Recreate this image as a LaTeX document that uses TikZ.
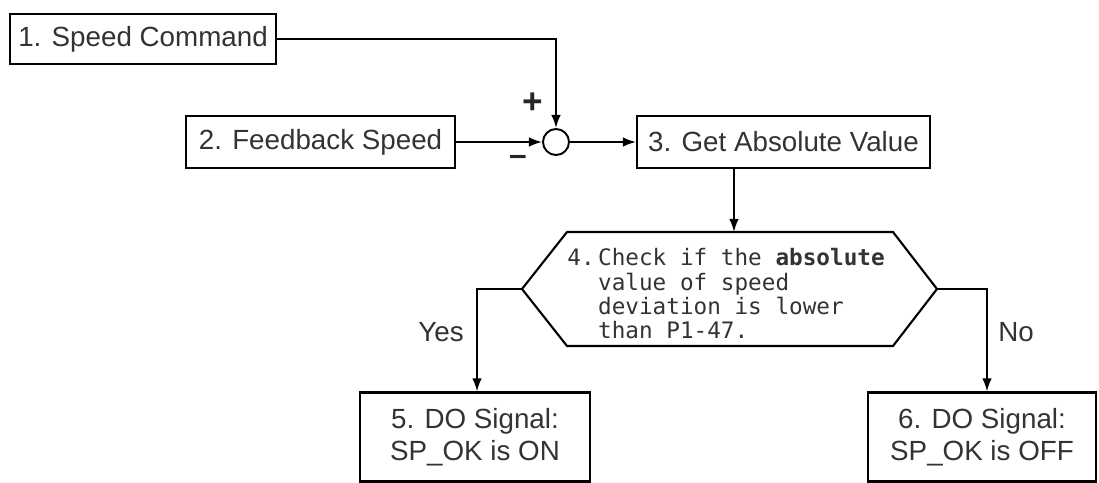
\documentclass[tikz,border=0pt]{standalone}
\usepackage{fontspec}
\setmainfont{Liberation Sans}
\setmonofont{DejaVu Sans Mono}
\usetikzlibrary{arrows.meta}

\begin{document}
\begin{tikzpicture}[x=0.02cm, y=-0.02cm,
    box/.style={draw, line width=1.2pt, inner sep=0pt, text=black!80,
        font=\fontsize{15.8}{18}\selectfont, align=center},
    arr/.style={line width=1.1pt, -{Latex[length=7.5pt,width=5.5pt]}},
    lbl/.style={text=black!80, font=\fontsize{15.8}{18}\selectfont}]

        \useasboundingbox (0,0) rectangle (1099,483);

        % Boxes
        \node[box, minimum width=5.32cm, minimum height=1cm] (cmd) at (143,39) {1. Speed Command};
        \node[box, minimum width=5.38cm, minimum height=1.04cm] (fbk) at (320.5,142) {2. Feedback Speed};
        \node[box, minimum width=5.86cm, minimum height=1.04cm] (abs) at (783.5,142) {3. Get Absolute Value};
        \node[box, minimum width=4.6cm, minimum height=1.78cm] (on) at (475,437) {5. DO Signal:\\ SP\_OK is ON};
        \node[box, minimum width=4.56cm, minimum height=1.78cm] (off) at (982,437) {6. DO Signal:\\ SP\_OK is OFF};

        % Summing point and signs
        \node[draw, circle, line width=1.1pt, minimum size=0.52cm, inner sep=0pt] (sum) at (556,142) {};
        \node[text=black!85, font=\fontsize{20}{20}\selectfont\bfseries] (plus) at (533,103) {+};
        \node[text=black!85, font=\fontsize{18}{18}\selectfont\bfseries] (minus) at (518,160) {–};

        % Define vertices of the hexagon
        \coordinate (H1) at (567,232);   % Top-left
        \coordinate (H2) at (893,232);   % Top-right
        \coordinate (H3) at (937,289);   % Right
        \coordinate (H4) at (893,346);   % Bottom-right
        \coordinate (H5) at (567,346);   % Bottom-left
        \coordinate (H6) at (522,289);   % Left

        % Bend points of the branches
        \coordinate (T) at (734,232);    % Entry on top
        \coordinate (L) at (477,289);    % Yes corner
        \coordinate (R) at (987,289);    % No corner

        % Draw hexagon with its text
        \draw[line width=1.2pt] (H1) -- (H2) -- (H3) -- (H4) -- (H5) -- (H6) -- cycle;
        \node[anchor=west, inner sep=0pt, text=black!80,
              font=\ttfamily\fontsize{12.9}{13}\selectfont] (chk) at (567,297)
            {\begin{tabular}{@{}l@{\hspace{2pt}}l@{}}
             4.&Check if the \textbf{absolute}\\
               &value of speed\\
               &deviation is lower\\
               &than P1-47.
             \end{tabular}};

        % Connectors
        \draw[arr] (cmd.east) -- (cmd.east -| sum) -- (sum.north);
        \draw[arr] (fbk) -- (sum);
        \draw[arr] (sum) -- (abs);
        \draw[arr] (T |- abs.south) -- (T);
        \draw[arr] (H6) -- (L) -- (L |- on.north);
        \draw[arr] (H3) -- (R) -- (R |- off.north);

        % Branch labels
        \node[lbl] (yes) at (441,332) {Yes};
        \node[lbl] (no) at (1016,332) {No};

\end{tikzpicture}
\end{document}
